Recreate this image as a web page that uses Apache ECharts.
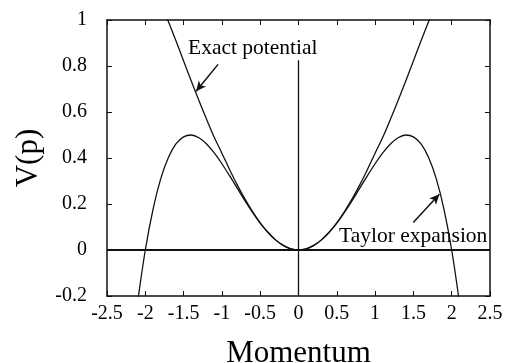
<!DOCTYPE html>
<html>
<head>
<meta charset="utf-8">
<script src="https://cdn.jsdelivr.net/npm/echarts@6/dist/echarts.min.js"></script>
<style>
html, body { margin: 0; padding: 0; background: #fff; }
#chart { width: 506px; height: 363px; }
</style>
</head>
<body>
<div id="chart"></div>
<script>
// momentum values (right half, mirrored for the left half)
let momentum = [0, 0.1, 0.2, 0.3, 0.4, 0.5, 0.6, 0.7, 0.8, 0.9, 1.0, 1.1, 1.2, 1.3, 1.4, 1.5, 1.6, 1.7, 1.8, 1.9, 2.0, 2.1]
let exactPotential = [0, 0.005, 0.020, 0.044, 0.077, 0.118, 0.167, 0.222, 0.283, 0.350, 0.421, 0.490, 0.568, 0.650, 0.735, 0.822, 0.910, 0.995, 1.080]
let taylorExpansion = [0, 0.005, 0.020, 0.044, 0.077, 0.117, 0.164, 0.215, 0.269, 0.323, 0.375, 0.422, 0.461, 0.488, 0.500, 0.492, 0.461, 0.401, 0.308, 0.176, 0.000, -0.226]

let xTickLabels = ["-2.5", "-2", "-1.5", "-1", "-0.5", "0", "0.5", "1", "1.5", "2", "2.5"]
let yTickLabels = ["-0.2", "0", "0.2", "0.4", "0.6", "0.8", "1"]

let zeroLine = [[-2.5, 0], [2.5, 0]]
let centerLine = [[0, -0.2], [0, 0.825]]
let exactArrow = [[-1.05, 0.807], [-1.337, 0.69]]
let taylorArrow = [[1.498, 0.12], [1.839, 0.242]]

function mirror(xs, ys){
    let pts = []
    for (let i = ys.length - 1; i > 0; i--) pts.push([-xs[i], ys[i]])
    for (let i = 0; i < ys.length; i++) pts.push([xs[i], ys[i]])
    return pts
}

let serif = "Liberation Serif"
let lineCol = "#111"

let myChart = echarts.init(document.getElementById("chart"))
let option = {
    animation: false,
    grid: { left: 107, right: 16, top: 20, bottom: 67, containLabel: false, outerBoundsMode: "none" },
    xAxis: [
        {
            type: "value", min: -2.5, max: 2.5, interval: 0.5,
            name: "Momentum", nameLocation: "middle", nameGap: 42,
            nameTextStyle: { fontFamily: serif, fontSize: 31, color: "#000" },
            axisLine: { show: true, onZero: false, lineStyle: { color: lineCol, width: 1.5 } },
            axisTick: { inside: true, length: 5, lineStyle: { color: lineCol } },
            axisLabel: {
                fontFamily: serif, fontSize: 20, color: "#000", margin: 8,
                formatter: v => xTickLabels[Math.round((v + 2.5) / 0.5)]
            },
            splitLine: { show: false }
        },
        {
            type: "value", min: -2.5, max: 2.5, interval: 0.5, position: "top",
            axisLine: { show: true, onZero: false, lineStyle: { color: lineCol, width: 1.5 } },
            axisTick: { inside: true, length: 5, lineStyle: { color: lineCol } },
            axisLabel: { show: false },
            splitLine: { show: false }
        }
    ],
    yAxis: [
        {
            type: "value", min: -0.2, max: 1, interval: 0.2,
            name: "V(p)", nameLocation: "middle", nameGap: 58,
            nameTextStyle: { fontFamily: serif, fontSize: 31, color: "#000" },
            axisLine: { show: true, onZero: false, lineStyle: { color: lineCol, width: 1.5 } },
            axisTick: { inside: true, length: 5, lineStyle: { color: lineCol } },
            axisLabel: {
                fontFamily: serif, fontSize: 20, color: "#000", margin: 20,
                formatter: v => yTickLabels[Math.round((v + 0.2) / 0.2)]
            },
            splitLine: { show: false }
        },
        {
            type: "value", min: -0.2, max: 1, interval: 0.2, position: "right",
            axisLine: { show: true, onZero: false, lineStyle: { color: lineCol, width: 1.5 } },
            axisTick: { inside: true, length: 5, lineStyle: { color: lineCol } },
            axisLabel: { show: false },
            splitLine: { show: false }
        }
    ],
    series: [
        {
            type: "line", data: zeroLine, showSymbol: false, silent: true,
            lineStyle: { color: lineCol, width: 2 }
        },
        {
            type: "line", data: centerLine, showSymbol: false, silent: true,
            lineStyle: { color: lineCol, width: 1.3 }
        },
        {
            name: "Exact potential", type: "line", smooth: 0.3, showSymbol: false, clip: true,
            data: mirror(momentum, exactPotential),
            lineStyle: { color: lineCol, width: 1.3 }
        },
        {
            name: "Taylor expansion", type: "line", smooth: 0.3, showSymbol: false, clip: true,
            data: mirror(momentum, taylorExpansion),
            lineStyle: { color: lineCol, width: 1.3 }
        },
        {
            type: "line", data: [], silent: true,
            markLine: {
                silent: true, symbol: ["none", "arrow"], symbolSize: [7, 10],
                label: { show: false },
                lineStyle: { color: lineCol, width: 1.5, type: "solid" },
                data: [
                    [{ coord: exactArrow[0] }, { coord: exactArrow[1] }],
                    [{ coord: taylorArrow[0] }, { coord: taylorArrow[1] }]
                ]
            }
        }
    ],
    graphic: [
        {
            type: "text", left: 188, top: 37,
            style: { text: "Exact potential", font: "21.5px 'Liberation Serif'", fill: "#000" }
        },
        {
            type: "text", left: 339, top: 225,
            style: { text: "Taylor expansion", font: "21.5px 'Liberation Serif'", fill: "#000" }
        }
    ]
}
myChart.setOption(option)
</script>
</body>
</html>
